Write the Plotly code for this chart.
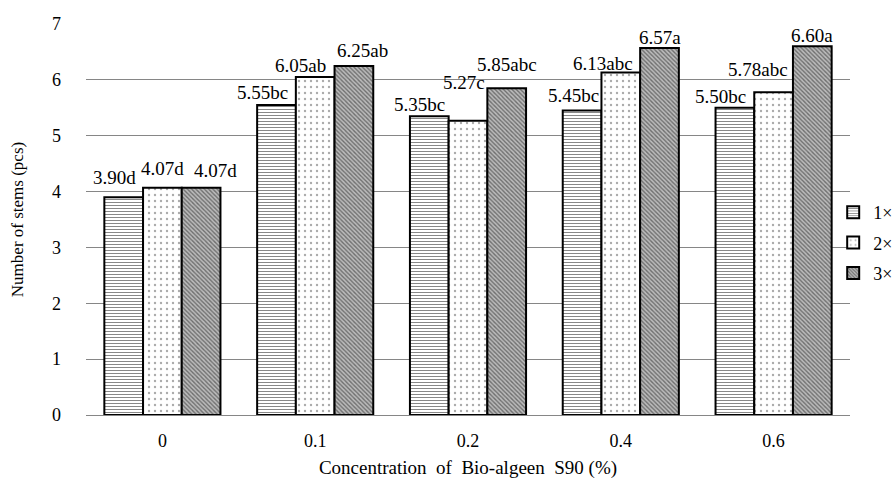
import plotly.graph_objects as go

categories = ["0", "0.1", "0.2", "0.4", "0.6"]
series_names = ["1×", "2×", "3×"]
values_1x = [3.90, 5.55, 5.35, 5.45, 5.50]
values_2x = [4.07, 6.05, 5.27, 6.13, 5.78]
values_3x = [4.07, 6.25, 5.85, 6.57, 6.60]
letters_1x = ["d", "bc", "bc", "bc", "bc"]
letters_2x = ["d", "ab", "c", "abc", "abc"]
letters_3x = ["d", "ab", "abc", "a", "a"]

# label nudges (pixels) to mimic the original label placement
nudge_x = [[-9, -14, -10, -9, -14],
           [0, -15, -4, -18, -16],
           [14, 9, 0, 0, 0]]
lift = [[12, 5, 4, 8, 4],
        [12, 4, 31, 2, 15],
        [10, 8, 16, 3, 3]]

series_vals = [values_1x, values_2x, values_3x]
series_letters = [letters_1x, letters_2x, letters_3x]
patterns = [
    dict(shape="-", fgcolor="#111111", bgcolor="white", size=3, solidity=0.35),
    dict(shape=".", fgcolor="#555555", bgcolor="white", size=6, solidity=0.12),
    dict(shape="\\", fgcolor="#222222", bgcolor="#bbbbbb", size=3, solidity=0.45),
]

font_family = "Liberation Serif"
bargap = 0.24
ngroups = 3
bw = (1 - bargap) / ngroups
xpos = list(range(len(categories)))

fig = go.Figure()
for j in range(3):
    fig.add_trace(go.Bar(
        x=xpos, y=series_vals[j], name=series_names[j],
        legendgroup=series_names[j],
        marker=dict(color="white", pattern=patterns[j],
                    line=dict(color="black", width=2)),
    ))

annotations = []
for j in range(3):
    for i in range(len(categories)):
        v = series_vals[j][i]
        annotations.append(dict(
            x=xpos[i] + (j - 1) * bw, y=v, xref="x", yref="y",
            text=f"{v:.2f}{series_letters[j][i]}", showarrow=False,
            xanchor="center", yanchor="bottom",
            xshift=nudge_x[j][i], yshift=lift[j][i] - 5,
            font=dict(family=font_family, size=19, color="black"),
        ))

fig.update_layout(
    width=896, height=481,
    margin=dict(l=86, r=46, t=24, b=66, autoexpand=False),
    paper_bgcolor="white", plot_bgcolor="white",
    barmode="group", bargap=bargap, bargroupgap=0,
    font=dict(family=font_family, size=18, color="black"),
    annotations=annotations,
    showlegend=True,
    legend=dict(x=0.978, xanchor="left", y=0.44, yanchor="middle",
                font=dict(family=font_family, size=18),
                itemwidth=30, tracegroupgap=4, traceorder="grouped",
                bgcolor="rgba(0,0,0,0)"),
    xaxis=dict(
        range=[-0.5, 4.5], tickvals=xpos, ticktext=categories,
        showgrid=False, zeroline=False, showline=False, ticks="",
        ticklabelstandoff=13,
        title=dict(text="Concentration  of  Bio-algeen  S90 (%)", standoff=10,
                   font=dict(family=font_family, size=19)),
    ),
    yaxis=dict(
        range=[0, 7], dtick=1, showgrid=True, gridcolor="#868686", gridwidth=1,
        zeroline=True, zerolinecolor="#868686", zerolinewidth=1,
        showline=False, ticks="", ticklabelstandoff=24,
        title=dict(text="Number of stems (pcs)", standoff=24,
                   font=dict(family=font_family, size=17)),
    ),
)

fig.write_html("out.html", config={"displayModeBar": False})

# remove the default 8px body margin so the figure fills the window exactly
with open("out.html", encoding="utf-8") as f:
    html = f.read()
html = html.replace("<head>", "<head><style>body{margin:0;overflow:hidden}</style>", 1)
with open("out.html", "w", encoding="utf-8") as f:
    f.write(html)
